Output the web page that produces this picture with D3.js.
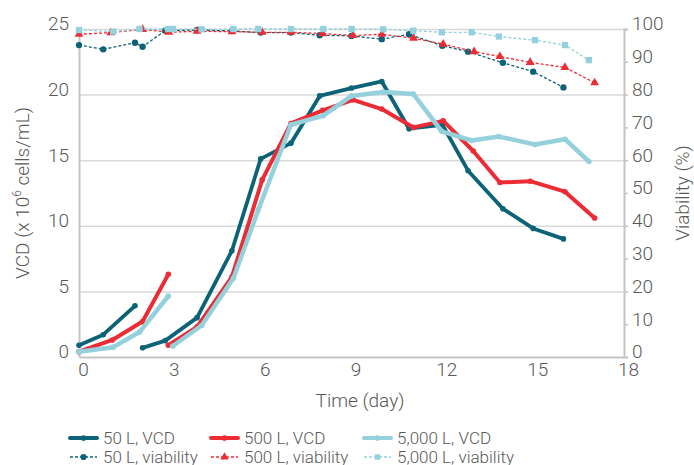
<!DOCTYPE html>
<html>
<head>
<meta charset="utf-8">
<script src="https://cdn.jsdelivr.net/npm/d3@7"></script>
<style>
  body { margin: 0; background: #fff; }
  svg text { font-family: Roboto, "Liberation Sans", sans-serif; font-weight: 300; fill: #595959; }
</style>
</head>
<body>
<div id="chart"></div>
<script>
// 50 L reactor (VCD restarts at index 3 after passage)
var days50 = [0, 0.8, 1.85, 2.1, 2.85, 3.9, 5.05, 6, 7, 7.95, 9, 10, 10.9, 12, 12.85, 14, 15, 16];
var vcd50 = [0.9, 1.7, 3.9, 0.7, 1.25, 3.0, 8.1, 15.1, 16.3, 19.9, 20.5, 21.0, 17.4, 17.7, 14.2, 11.3, 9.8, 9.0];
var via50 = [95.1, 93.8, 95.8, 94.6, 99.5, 99.7, 99.4, 98.9, 98.9, 98.1, 97.9, 96.9, 98.4, 94.9, 93.1, 89.7, 87.0, 82.2];
var split50 = 3;

// 500 L reactor
var days500 = [0, 1.1, 2.1, 2.95, 2.95, 3.9, 5.05, 6.05, 7, 8.05, 9.05, 10, 11.05, 12.03, 13.02, 13.9, 14.9, 16.05, 17.03];
var vcd500 = [0.4, 1.3, 2.7, 6.3, 0.9, 2.3, 6.1, 13.5, 17.8, 18.8, 19.6, 18.9, 17.5, 18.0, 15.7, 13.3, 13.4, 12.6, 10.6];
var split500 = 4;
var viaDays500 = [0, 1.05, 2.1, 2.97, 3.9, 5.05, 6.05, 7, 8.05, 9.05, 10, 11.05, 12.03, 13.05, 13.9, 14.9, 16.05, 17.03];
var via500 = [98.4, 98.9, 99.9, 99.0, 99.3, 99.2, 99.0, 99.0, 98.6, 98.0, 98.4, 97.2, 95.4, 93.1, 91.6, 89.8, 88.3, 83.6];

// 5,000 L reactor
var days5000 = [0, 1.13, 2.0, 2.95, 3.1, 4.05, 5.1, 5.92, 7, 8.07, 9, 10.05, 11.04, 11.98, 12.97, 13.87, 15.06, 16.05, 16.84];
var vcd5000 = [0.4, 0.75, 1.9, 4.65, 0.84, 2.4, 6.0, 11.2, 17.7, 18.4, 19.9, 20.2, 20.05, 17.2, 16.5, 16.8, 16.2, 16.6, 14.9];
var split5000 = 4;
var via5000 = [99.7, 99.2, 100, 100, 100, 99.9, 100, 100, 100, 100, 100, 99.9, 99.5, 99.0, 99.0, 97.7, 96.6, 95.1, 90.5];

var xTicks = [0, 3, 6, 9, 12, 15, 18];
var vcdTicks = [0, 5, 10, 15, 20, 25];
var viaTicks = [0, 10, 20, 30, 40, 50, 60, 70, 80, 90, 100];

var teal = "#0c6377", red = "#ec2c35", light = "#95d1dc";

var W = 694, H = 465;
var pLeft = 79, pRight = 624, pTop = 29, pBottom = 357;

var svg = d3.select("#chart").append("svg")
    .attr("width", W)
    .attr("height", H);

var x = d3.scaleLinear().domain([0, 18]).range([pLeft, pRight]);
var yL = d3.scaleLinear().domain([0, 25]).range([pBottom, pTop]);
var yR = d3.scaleLinear().domain([0, 100]).range([pBottom, pTop]);

// gridlines
svg.append("g")
    .attr("transform", "translate(" + pLeft + ",0)")
    .call(d3.axisLeft(yL).tickValues([5, 10, 15, 20, 25]).tickSize(-(pRight - pLeft)).tickFormat(""))
    .call(function(g) { g.select(".domain").remove(); })
    .selectAll("line").attr("stroke", "#d9d9d9").attr("stroke-width", 1.5);

function styleText(g) {
    g.selectAll("text").attr("font-size", 19)
        .style("font-family", "Roboto").style("font-weight", 300).attr("fill", "#595959");
}

// left axis
var gl = svg.append("g")
    .attr("transform", "translate(" + pLeft + ",0)")
    .call(d3.axisLeft(yL).tickValues(vcdTicks).tickSize(0).tickPadding(10));
gl.select(".domain").attr("stroke", "#c4c4c4").attr("stroke-width", 2);
styleText(gl);
gl.selectAll("text").attr("dy", "0.05em");

// right axis
var gr = svg.append("g")
    .attr("transform", "translate(" + pRight + ",0)")
    .call(d3.axisRight(yR).tickValues(viaTicks).tickSize(4).tickPadding(4));
gr.select(".domain").attr("stroke", "#c4c4c4").attr("stroke-width", 2);
gr.selectAll("line").attr("stroke", "#c4c4c4").attr("stroke-width", 1.5);
styleText(gr);
gr.selectAll("text").attr("dy", "0.05em");

// bottom axis
var gb = svg.append("g")
    .attr("transform", "translate(0," + pBottom + ")")
    .call(d3.axisBottom(x).tickValues(xTicks).tickSize(0).tickPadding(6));
gb.select(".domain").attr("stroke", "#c4c4c4").attr("stroke-width", 2);
styleText(gb);
gb.selectAll("text").attr("dx", 4);

// axis titles
var yt = svg.append("text")
    .attr("transform", "translate(29," + ((pTop + pBottom) / 2) + ") rotate(-90)")
    .attr("text-anchor", "middle")
    .attr("font-size", 19);
yt.append("tspan").text("VCD (x 10");
yt.append("tspan").attr("font-size", 12).attr("dy", -8).text("6");
yt.append("tspan").attr("dy", 8).text(" cells/mL)");

svg.append("text")
    .attr("transform", "translate(689," + ((pTop + pBottom) / 2) + ") rotate(-90)")
    .attr("text-anchor", "middle")
    .attr("font-size", 19)
    .text("Viability (%)");

svg.append("text")
    .attr("x", 360)
    .attr("y", 407)
    .attr("text-anchor", "middle")
    .attr("font-size", 19)
    .text("Time (day)");

var lineL = d3.line().x(function(d) { return x(d[0]); }).y(function(d) { return yL(d[1]); });
var lineR = d3.line().x(function(d) { return x(d[0]); }).y(function(d) { return yR(d[1]); });

function pairs(days, vals) { return days.map(function(d, i) { return [d, vals[i]]; }); }

function drawVcd(days, vals, split, color, w) {
    var pts = pairs(days, vals);
    [pts.slice(0, split), pts.slice(split)].forEach(function(seg) {
        svg.append("path").datum(seg)
            .attr("d", lineL)
            .attr("fill", "none")
            .attr("stroke", color)
            .attr("stroke-width", w)
            .attr("stroke-linejoin", "round");
    });
    svg.append("g").selectAll("circle").data(pts).enter().append("circle")
        .attr("cx", function(d) { return x(d[0]); })
        .attr("cy", function(d) { return yL(d[1]); })
        .attr("r", 2.8)
        .attr("fill", color);
}

function drawVia(days, vals, color, sym, size) {
    var pts = pairs(days, vals);
    svg.append("path").datum(pts)
        .attr("d", lineR)
        .attr("fill", "none")
        .attr("stroke", color)
        .attr("stroke-width", 1.3)
        .attr("stroke-dasharray", "3,2");
    svg.append("g").selectAll("path").data(pts).enter().append("path")
        .attr("transform", function(d) { return "translate(" + x(d[0]) + "," + yR(d[1]) + ")"; })
        .attr("d", d3.symbol().type(sym).size(size))
        .attr("fill", color);
}

drawVcd(days50, vcd50, split50, teal, 3.8);
drawVcd(days500, vcd500, split500, red, 4);
drawVcd(days5000, vcd5000, split5000, light, 4.5);

drawVia(days50, via50, teal, d3.symbolCircle, 32);
drawVia(viaDays500, via500, red, d3.symbolTriangle, 34);
drawVia(days5000, via5000, light, d3.symbolSquare, 40);

// legend
var legendItems = [
    {label: "50 L, VCD", color: teal, vcd: true, sym: d3.symbolCircle, x: 70, y: 438},
    {label: "500 L, VCD", color: red, vcd: true, sym: d3.symbolCircle, x: 211, y: 438},
    {label: "5,000 L, VCD", color: light, vcd: true, sym: d3.symbolCircle, x: 364, y: 438},
    {label: "50 L, viability", color: teal, vcd: false, sym: d3.symbolCircle, x: 70, y: 457},
    {label: "500 L, viability", color: red, vcd: false, sym: d3.symbolTriangle, x: 211, y: 457},
    {label: "5,000 L, viability", color: light, vcd: false, sym: d3.symbolSquare, x: 364, y: 457}
];

var lg = svg.append("g").selectAll("g").data(legendItems).enter().append("g")
    .attr("transform", function(d) { return "translate(" + d.x + "," + d.y + ")"; });

lg.append("line")
    .attr("x1", 0).attr("x2", 27)
    .attr("stroke", function(d) { return d.color; })
    .attr("stroke-width", function(d) { return d.vcd ? 4 : 1.3; })
    .attr("stroke-dasharray", function(d) { return d.vcd ? null : "3,2"; })
    .attr("stroke-linecap", function(d) { return d.vcd ? "round" : null; });

lg.append("path")
    .attr("transform", "translate(13.5,0)")
    .attr("d", function(d) { return d3.symbol().type(d.sym).size(d.vcd ? 25 : 30)(); })
    .attr("fill", function(d) { return d.color; });

lg.append("text")
    .attr("x", 33)
    .attr("dy", "0.35em")
    .attr("font-size", 17)
    .text(function(d) { return d.label; });
</script>
</body>
</html>
